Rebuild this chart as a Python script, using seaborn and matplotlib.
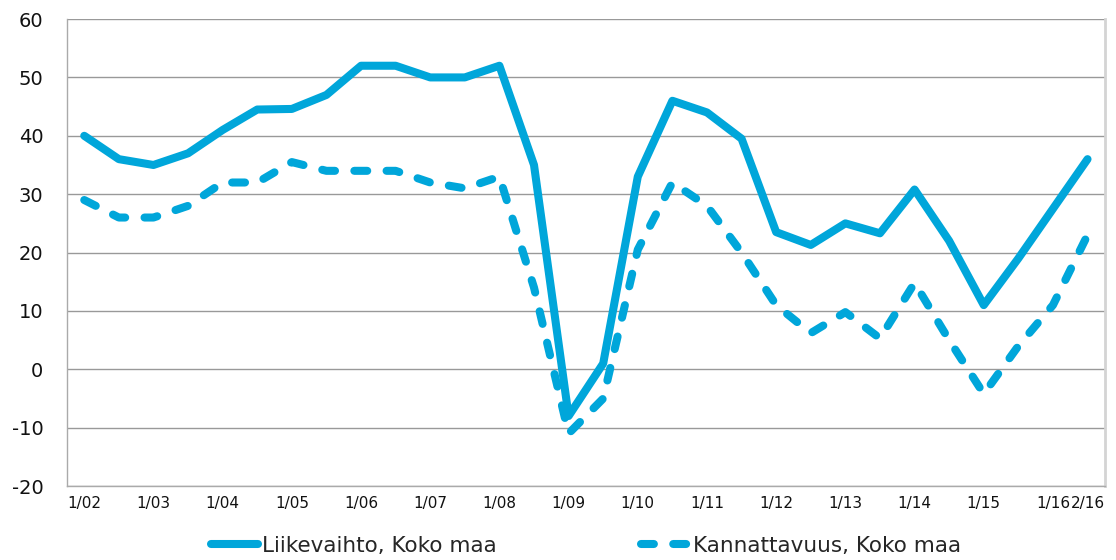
import matplotlib
matplotlib.use("Agg")
import matplotlib.pyplot as plt
import numpy as np
import pandas as pd
import seaborn as sns

# half-year periods 1/02, 2/02, ... 1/16, 2/16
periods = [f"{h}/{y:02d}" for y in range(2, 17) for h in (1, 2)]

liikevaihto = [40, 36, 35, 37, 41, 44.5, 44.6, 47, 52, 52,
               50, 50, 52, 35, -8, 1, 33, 46, 44, 39.5,
               23.5, 21.3, 25, 23.3, 30.8, 22, 11, 19, 27.5, 36]
kannattavuus = [29, 26, 26, 28, 32, 32, 35.5, 34, 34, 34,
                32, 31, 33, 14, -11, -5, 20.5, 32, 28, 20,
                11, 6.2, 9.8, 5.3, 14.8, 5, -4.2, 4, 11, 23]

series_names = ["Liikevaihto, Koko maa", "Kannattavuus, Koko maa"]

df = pd.DataFrame({"period": periods,
                   series_names[0]: liikevaihto,
                   series_names[1]: kannattavuus})
df["pos"] = np.arange(len(df))

color = "#00a6da"
sns.set_style("white")
plt.rcParams["font.family"] = ["DejaVu Sans"]
plt.rcParams["axes.unicode_minus"] = False

fig = plt.figure(figsize=(11.16, 5.6), dpi=100)
ax = fig.add_axes([0.060, 0.132, 0.930, 0.834])

sns.lineplot(data=df, x="pos", y=series_names[0], ax=ax, color=color,
             linewidth=5.8, label=series_names[0], solid_capstyle="round")
sns.lineplot(data=df, x="pos", y=series_names[1], ax=ax, color=color,
             linewidth=5.8, label=series_names[1], dashes=(1.6, 2.4),
             dash_capstyle="round")

ax.set_xlim(-0.5, len(df) - 0.5)
ax.set_ylim(-20, 60)
ax.set_yticks(range(-20, 61, 10))
ax.tick_params(axis="y", labelsize=14, length=0, pad=17, labelcolor="#111111")

tick_idx = list(range(0, len(df), 2)) + [len(df) - 1]
ax.set_xticks(df["pos"].iloc[tick_idx])
ax.set_xticklabels(df["period"].iloc[tick_idx])
ax.tick_params(axis="x", labelsize=11, length=0, pad=7, labelcolor="#111111")

ax.set_xlabel("")
ax.set_ylabel("")
ax.grid(axis="y", color="#999999", linewidth=1)
ax.set_axisbelow(True)
for side in ["left", "bottom"]:
    ax.spines[side].set_color("#aaaaaa")
    ax.spines[side].set_linewidth(1)
ax.spines["top"].set_visible(False)
ax.spines["right"].set_color("#d4d4d4")
ax.spines["right"].set_linewidth(2)

ax.get_legend().remove()
handles, labels = ax.get_legend_handles_labels()
fig.legend(handles, labels, loc="center", bbox_to_anchor=(0.525, 0.025),
           ncol=2, frameon=False, fontsize=15.5, handlelength=2.2,
           handletextpad=0.2, columnspacing=6.7)

fig.savefig("out.png", dpi=100)
